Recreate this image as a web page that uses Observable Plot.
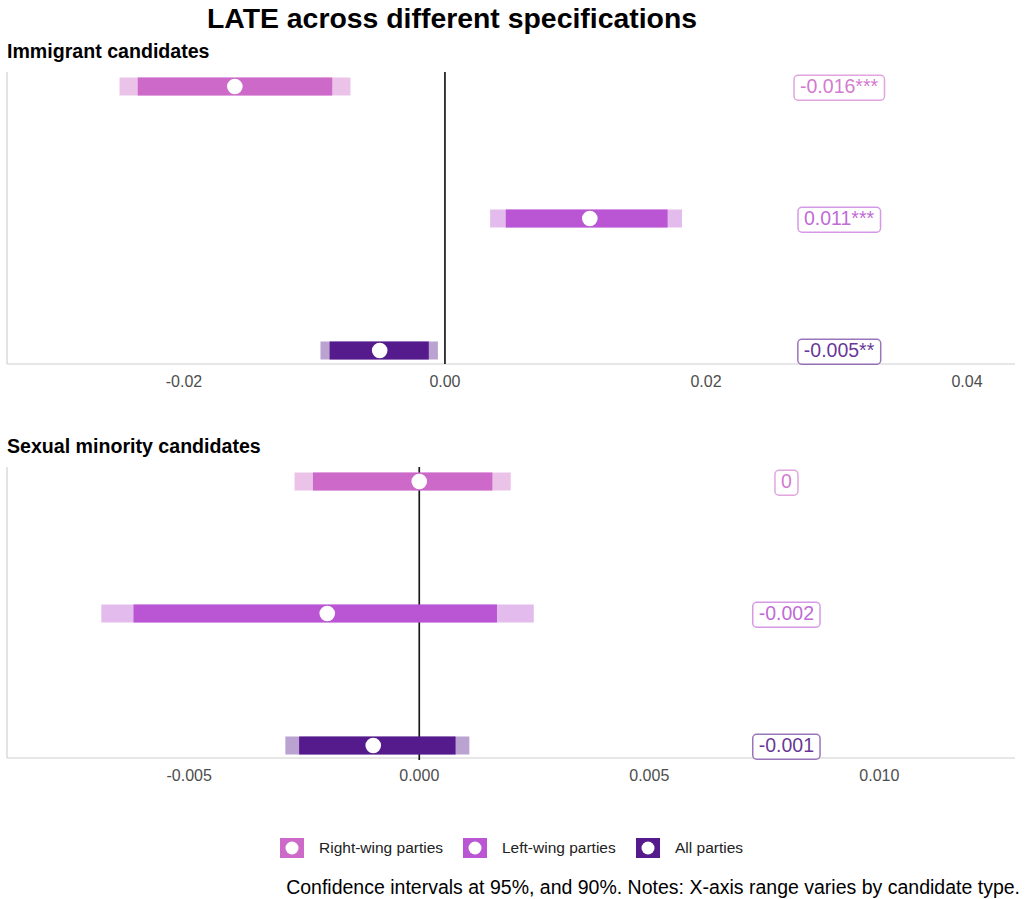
<!DOCTYPE html>
<html>
<head>
<meta charset="utf-8">
<script src="https://cdn.jsdelivr.net/npm/d3@7"></script>
<script src="https://cdn.jsdelivr.net/npm/@observablehq/plot@0.6"></script>
<style>
  html, body { margin: 0; padding: 0; background: #fff; }
  body { font-family: "Liberation Sans", Arial, Helvetica, sans-serif; }
  #root { position: relative; width: 1025px; height: 899px; overflow: hidden; background: #fff; }
  .title { position: absolute; left: 0; width: 904px; top: 1px; text-align: center; font-size: 28.4px; font-weight: bold; color: #000; line-height: 34px; z-index: 2; }
  .ptitle { position: absolute; left: 7px; font-size: 19.6px; font-weight: bold; color: #000; line-height: 22px; z-index: 2; }
  .panel { position: absolute; left: 0; z-index: 1; }
  .legend { position: absolute; top: 838px; left: 0; width: 1025px; height: 20px; }
  .legend .item { position: absolute; top: 0; height: 20px; display: flex; align-items: center; }
  .legend .item span { font-size: 15.5px; color: #222; margin-left: 15px; }
  .caption { position: absolute; right: 5px; top: 876px; font-size: 19.5px; color: #000; line-height: 22px; white-space: nowrap; }
</style>
</head>
<body>
<div id="root">
  <div class="title">LATE across different specifications</div>
  <div class="ptitle" style="top:40px">Immigrant candidates</div>
  <div class="ptitle" style="top:435px">Sexual minority candidates</div>
  <div class="panel" id="p1" style="top:60px"></div>
  <div class="panel" id="p2" style="top:455px"></div>
  <div class="legend" id="legend"></div>
  <div class="caption">Confidence intervals at 95%, and 90%. Notes: X-axis range varies by candidate type.</div>
</div>
<script>
// ---------- data ----------
const parties = ["Right-wing parties", "Left-wing parties", "All parties"];
const partyColors = ["#CD69C9", "#BA55D3", "#551A8B"];

// Immigrant candidates
const immEst  = [-0.0161, 0.0111, -0.0050];
const immLo95 = [-0.0249, 0.0035, -0.0095];
const immHi95 = [-0.0072, 0.0182, -0.0005];
const immLo90 = [-0.0235, 0.0047, -0.0088];
const immHi90 = [-0.0086, 0.0171, -0.0012];
const immLabels = ["-0.016***", "0.011***", "-0.005**"];
const immTicks = [-0.02, 0, 0.02, 0.04];

// Sexual minority candidates
const sexEst  = [0.0000, -0.0020, -0.0010];
const sexLo95 = [-0.0027, -0.0069, -0.0029];
const sexHi95 = [0.0020, 0.0025, 0.0011];
const sexLo90 = [-0.0023, -0.0062, -0.0026];
const sexHi90 = [0.0016, 0.0017, 0.0008];
const sexLabels = ["0", "-0.002", "-0.001"];
const sexTicks = [-0.005, 0, 0.005, 0.010];

// ---------- drawing ----------
const FONT = '"Liberation Sans", Arial, Helvetica, sans-serif';

function frameLines(index, scales, values, d) {
  const g = d3.create("svg:g").attr("stroke", "#d0d0d0").attr("stroke-width", 1.2);
  const yb = d.height - d.marginBottom;
  g.append("line").attr("x1", d.marginLeft).attr("x2", d.marginLeft).attr("y1", d.marginTop).attr("y2", yb);
  g.append("line").attr("x1", d.marginLeft).attr("x2", d.width - d.marginRight).attr("y1", yb).attr("y2", yb);
  return g.node();
}

function panel(cfg) {
  const rows = parties.map((p, i) => ({
    party: p, est: cfg.est[i], lo95: cfg.lo95[i], hi95: cfg.hi95[i],
    lo90: cfg.lo90[i], hi90: cfg.hi90[i], label: cfg.labels[i]
  }));
  return Plot.plot({
    width: 1025,
    height: 340,
    marginTop: 12,
    marginBottom: cfg.marginBottom,
    marginLeft: 7,
    marginRight: 10,
    x: { domain: cfg.domain, ticks: cfg.ticks, tickFormat: cfg.fmt, tickSize: 0, tickPadding: 11, label: null },
    y: { type: "point", domain: parties, range: cfg.yRange, padding: 0, axis: null },
    color: { domain: parties, range: partyColors },
    style: { fontFamily: FONT, fontSize: "16px", color: "#4d4d4d", background: "transparent", overflow: "visible" },
    marks: [
      frameLines,
      Plot.ruleX([0], { stroke: "#1a1a1a", strokeWidth: 1.7, insetBottom: cfg.zeroInset }),
      Plot.ruleY(rows, { y: "party", x1: "lo95", x2: "hi95", stroke: "party", strokeOpacity: 0.4, strokeWidth: 18 }),
      Plot.ruleY(rows, { y: "party", x1: "lo90", x2: "hi90", stroke: "party", strokeWidth: 18 }),
      Plot.dot(rows, { x: "est", y: "party", r: 7.8, fill: "white", stroke: null }),
      Plot.text(rows, { x: () => cfg.labelX, y: "party", text: "label", fill: "party", fillOpacity: 0.9, fontSize: 19.5, fontFamily: FONT })
    ]
  });
}

function addLabelBoxes(svg) {
  const ns = "http://www.w3.org/2000/svg";
  svg.querySelectorAll('g[aria-label="text"] text').forEach(t => {
    const b = t.getBBox();
    const r = document.createElementNS(ns, "rect");
    r.setAttribute("x", b.x - 6);
    r.setAttribute("y", b.y + 0.5);
    r.setAttribute("width", b.width + 12);
    r.setAttribute("height", b.height + 3);
    r.setAttribute("rx", 4);
    r.setAttribute("fill", "white");
    r.setAttribute("stroke", t.getAttribute("fill") || "#999");
    r.setAttribute("stroke-opacity", 0.6);
    r.setAttribute("stroke-width", 1.5);
    const tr = t.getAttribute("transform");
    if (tr) r.setAttribute("transform", tr);
    t.parentNode.insertBefore(r, t);
  });
}

const p1 = panel({
  est: immEst, lo95: immLo95, hi95: immHi95, lo90: immLo90, hi90: immHi90, labels: immLabels,
  domain: [-0.03352, 0.04372], ticks: immTicks, fmt: d => d.toFixed(2),
  labelX: 0.0302, yRange: [25, 290], marginBottom: 36, zeroInset: 0
});
document.getElementById("p1").appendChild(p1);
addLabelBoxes(p1);

const p2 = panel({
  est: sexEst, lo95: sexLo95, hi95: sexHi95, lo90: sexLo90, hi90: sexHi90, labels: sexLabels,
  domain: [-0.00895, 0.01296], ticks: sexTicks, fmt: d => d.toFixed(3),
  labelX: 0.00798, yRange: [26, 290], marginBottom: 37, zeroInset: -2
});
document.getElementById("p2").appendChild(p2);
addLabelBoxes(p2);

// ---------- legend ----------
const legendX = [280, 463, 636];
const legend = d3.select("#legend");
parties.forEach((p, i) => {
  const item = legend.append("div").attr("class", "item").style("left", legendX[i] + "px");
  const s = item.append("svg").attr("width", 24).attr("height", 20);
  s.append("rect").attr("width", 24).attr("height", 20).attr("fill", partyColors[i]);
  s.append("circle").attr("cx", 12).attr("cy", 10).attr("r", 6.5).attr("fill", "white");
  item.append("span").text(p);
});
</script>
</body>
</html>
